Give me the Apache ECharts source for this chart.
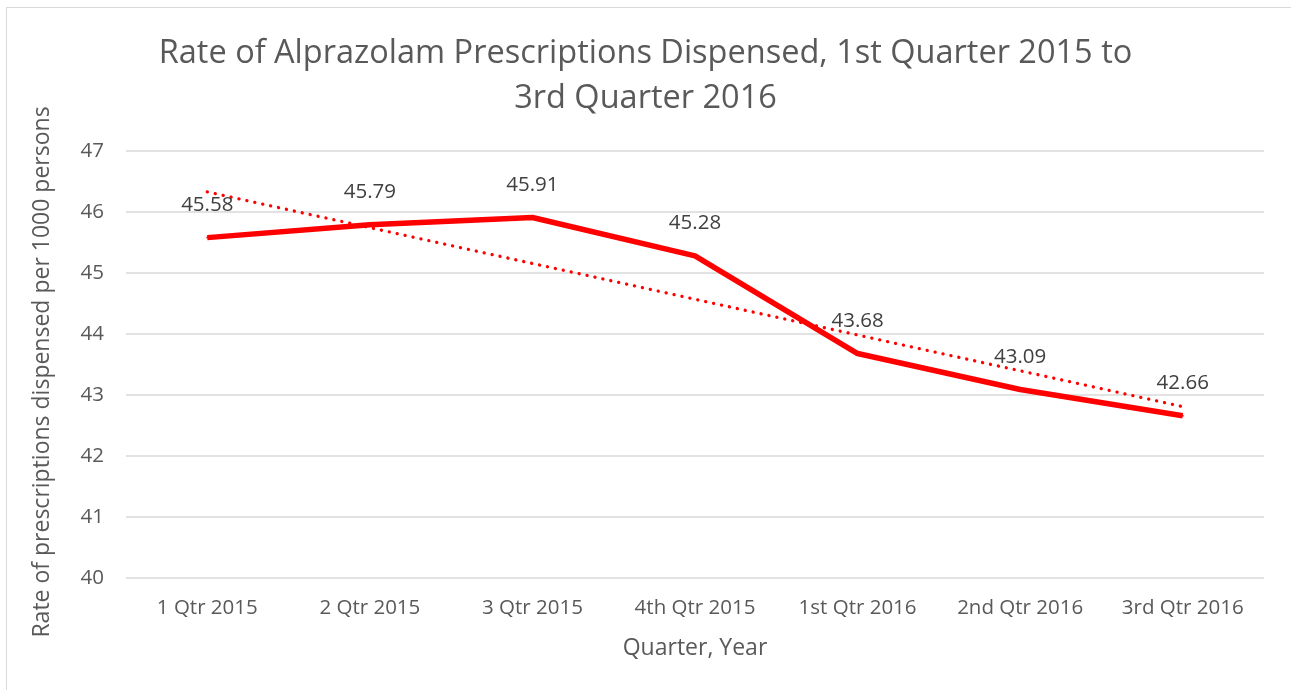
<!DOCTYPE html>
<html>
<head>
<meta charset="utf-8">
<script src="https://cdn.jsdelivr.net/npm/echarts@6/dist/echarts.min.js"></script>
<style>
  html, body { margin: 0; padding: 0; background: #fff; }
  #frame { position: absolute; left: 6px; top: 7px; width: 1300px; height: 700px; border: 1px solid #d9d9d9; }
  #chart { position: absolute; left: 0; top: 0; width: 1291px; height: 690px; }
</style>
</head>
<body>
<div id="frame"></div>
<div id="chart"></div>
<script>
// quarters on the x axis
var quarters = ['1 Qtr 2015', '2 Qtr 2015', '3 Qtr 2015', '4th Qtr 2015', '1st Qtr 2016', '2nd Qtr 2016', '3rd Qtr 2016'];
// rate per 1000 persons
var rates = [45.58, 45.79, 45.91, 45.28, 43.68, 43.09, 42.66];
// linear trendline at first and last quarter
var trend = [46.33, null, null, null, null, null, 42.81];

var font = 'Open Sans';
var chart = echarts.init(document.getElementById('chart'));
chart.setOption({
  animation: false,
  title: {
    text: 'Rate of Alprazolam Prescriptions Dispensed, 1st Quarter 2015 to\n3rd Quarter 2016',
    left: 'center',
    top: 26,
    textStyle: { fontFamily: font, fontSize: 32.5, fontWeight: 'normal', color: '#595959', lineHeight: 45 }
  },
  grid: { left: 126, right: 27, top: 151, bottom: 112 },
  xAxis: {
    type: 'category',
    data: quarters,
    name: 'Quarter, Year',
    nameLocation: 'middle',
    nameGap: 59,
    nameTextStyle: { fontFamily: font, fontSize: 23, color: '#595959' },
    axisLine: { show: false },
    axisTick: { show: false },
    axisLabel: { interval: 0, fontFamily: font, fontSize: 20.5, color: '#595959', margin: 20 }
  },
  yAxis: {
    type: 'value',
    min: 40,
    max: 47,
    interval: 1,
    name: 'Rate of prescriptions dispensed per 1000 persons',
    nameLocation: 'middle',
    nameGap: 72,
    nameTextStyle: { fontFamily: font, fontSize: 23, color: '#595959', padding: [0, 15, 0, 0] },
    axisLine: { show: false },
    axisTick: { show: false },
    axisLabel: { fontFamily: font, fontSize: 20.5, color: '#595959', margin: 22 },
    splitLine: { lineStyle: { color: '#d9d9d9', width: 1.5 } }
  },
  series: [
    {
      type: 'line',
      data: rates,
      symbol: 'circle',
      symbolSize: 2,
      showSymbol: true,
      itemStyle: { color: '#ff0000' },
      lineStyle: { color: '#ff0000', width: 5.5 },
      label: {
        show: true,
        position: 'top',
        distance: 21,
        fontFamily: font,
        fontSize: 20.5,
        color: '#404040'
      },
      labelLayout: { hideOverlap: false },
      z: 3
    },
    {
      type: 'line',
      data: trend,
      connectNulls: true,
      symbol: 'none',
      lineStyle: { color: '#ff0000', width: 3.3, type: [0.1, 8], cap: 'round' },
      z: 2
    }
  ]
});
</script>
</body>
</html>
